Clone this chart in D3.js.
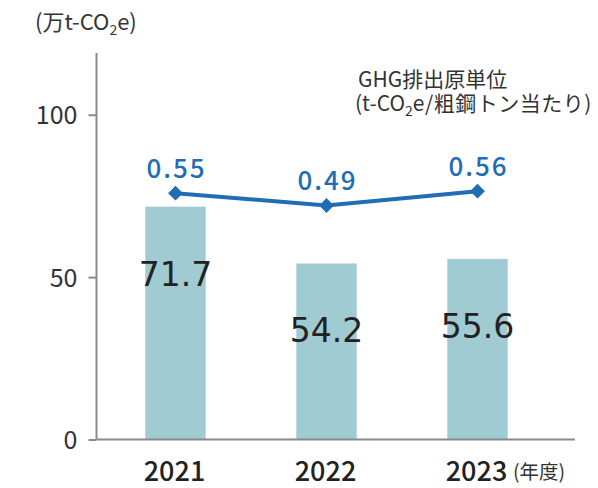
<!DOCTYPE html>
<html>
<head>
<meta charset="utf-8">
<script src="https://cdn.jsdelivr.net/npm/d3@7"></script>
<style>
  body { margin: 0; background: #fff; }
  text { font-family: "Noto Sans CJK JP", "Noto Sans", sans-serif; }
  .num { font-family: "DejaVu Sans", "Noto Sans CJK JP", sans-serif; }
</style>
</head>
<body>
<svg id="chart" width="598" height="488"></svg>
<script>
var years = ["2021", "2022", "2023"];
var ghg = [71.7, 54.2, 55.6];
var intensity = [0.55, 0.49, 0.56];
var yTicks = [0, 50, 100];

var svg = d3.select("#chart");

var x = d3.scaleBand()
  .domain(years)
  .range([100, 553])
  .paddingInner(0.6)
  .paddingOuter(0.3);

var y = d3.scaleLinear()
  .domain([0, 119])
  .range([439.5, 53]);

// hidden secondary scale for the intensity line
var y2 = d3.scaleLinear()
  .domain([0.4, 0.7])
  .range([224, 162.4]);

// bars
svg.selectAll("rect.bar")
  .data(ghg)
  .enter().append("rect")
  .attr("class", "bar")
  .attr("x", function(d, i) { return x(years[i]); })
  .attr("width", x.bandwidth())
  .attr("y", function(d) { return y(d); })
  .attr("height", function(d) { return y(0) - y(d); })
  .attr("fill", "#a1cbd2");

// y axis
var yAxis = svg.append("g")
  .attr("transform", "translate(96.5,0)")
  .call(d3.axisLeft(y).tickValues(yTicks).tickSize(8).tickPadding(11));
yAxis.select(".domain").attr("stroke", "#8a8a8a").attr("stroke-width", 2)
  .attr("d", "M0," + y(119) + "V" + y(0));
yAxis.selectAll(".tick line").attr("stroke", "#8a8a8a").attr("stroke-width", 2);
yAxis.selectAll(".tick text")
  .attr("font-family", "'Noto Sans CJK JP', sans-serif")
  .attr("font-size", "25px")
  .attr("fill", "#333")
  .attr("dy", "0.36em");

// baseline
svg.append("line")
  .attr("x1", 96.5).attr("x2", 575)
  .attr("y1", y(0)).attr("y2", y(0))
  .attr("stroke", "#8a8a8a")
  .attr("stroke-width", 2);

// x labels
svg.selectAll("text.xlab")
  .data(years)
  .enter().append("text")
  .attr("class", "xlab")
  .attr("x", function(d) { return x(d) + x.bandwidth() / 2 - 1; })
  .attr("y", 481)
  .attr("text-anchor", "middle")
  .attr("font-size", "27px")
  .attr("font-weight", 500)
  .attr("fill", "#222")
  .text(function(d) { return d; });

svg.append("text")
  .attr("x", 513)
  .attr("y", 479)
  .attr("font-size", "19.5px")
  .attr("fill", "#333")
  .text("(年度)");

// bar value labels
svg.selectAll("text.val")
  .data(ghg)
  .enter().append("text")
  .attr("class", "val num")
  .attr("x", function(d, i) { return x(years[i]) + x.bandwidth() / 2; })
  .attr("y", function(d) { return y(d) + 79; })
  .attr("text-anchor", "middle")
  .attr("font-size", "33px")
  .attr("fill", "#222")
  .text(function(d) { return d.toFixed(1); });

// intensity line
var cx = function(d, i) { return x(years[i]) + x.bandwidth() / 2; };
var line = d3.line()
  .x(cx)
  .y(function(d) { return y2(d); });

svg.append("path")
  .datum(intensity)
  .attr("d", line)
  .attr("fill", "none")
  .attr("stroke", "#1f6db5")
  .attr("stroke-width", 4);

svg.selectAll("path.marker")
  .data(intensity)
  .enter().append("path")
  .attr("class", "marker")
  .attr("d", d3.symbol().type(d3.symbolDiamond2).size(140))
  .attr("transform", function(d, i) {
    return "translate(" + cx(d, i) + "," + y2(d) + ")";
  })
  .attr("fill", "#1f6db5");

svg.selectAll("text.ilab")
  .data(intensity)
  .enter().append("text")
  .attr("class", "ilab")
  .attr("x", function(d, i) { return cx(d, i) + 1; })
  .attr("y", function(d) { return y2(d) - 15.5; })
  .attr("text-anchor", "middle")
  .attr("font-size", "26px")
  .attr("font-weight", 500)
  .attr("letter-spacing", "2px")
  .attr("fill", "#1f6db5")
  .text(function(d) { return d.toFixed(2); });

// unit label
var unit = svg.append("text")
  .attr("x", 35).attr("y", 30)
  .attr("font-size", "22px")
  .attr("fill", "#333");
unit.append("tspan").text("(万t-CO");
unit.append("tspan").attr("font-size", "14px").attr("dy", 5).text("2");
unit.append("tspan").attr("dy", -5).text("e)");

// series legend
svg.append("text")
  .attr("x", 358).attr("y", 87)
  .attr("font-size", "21px")
  .attr("fill", "#333")
  .text("GHG排出原単位");
var leg = svg.append("text")
  .attr("x", 355).attr("y", 111)
  .attr("font-size", "21px")
  .attr("fill", "#333");
leg.append("tspan").text("(t-CO");
leg.append("tspan").attr("font-size", "14px").attr("dy", 5).text("2");
leg.append("tspan").attr("dy", -5).attr("letter-spacing", "0.5px").text("e/粗鋼トン当たり)");
</script>
</body>
</html>
